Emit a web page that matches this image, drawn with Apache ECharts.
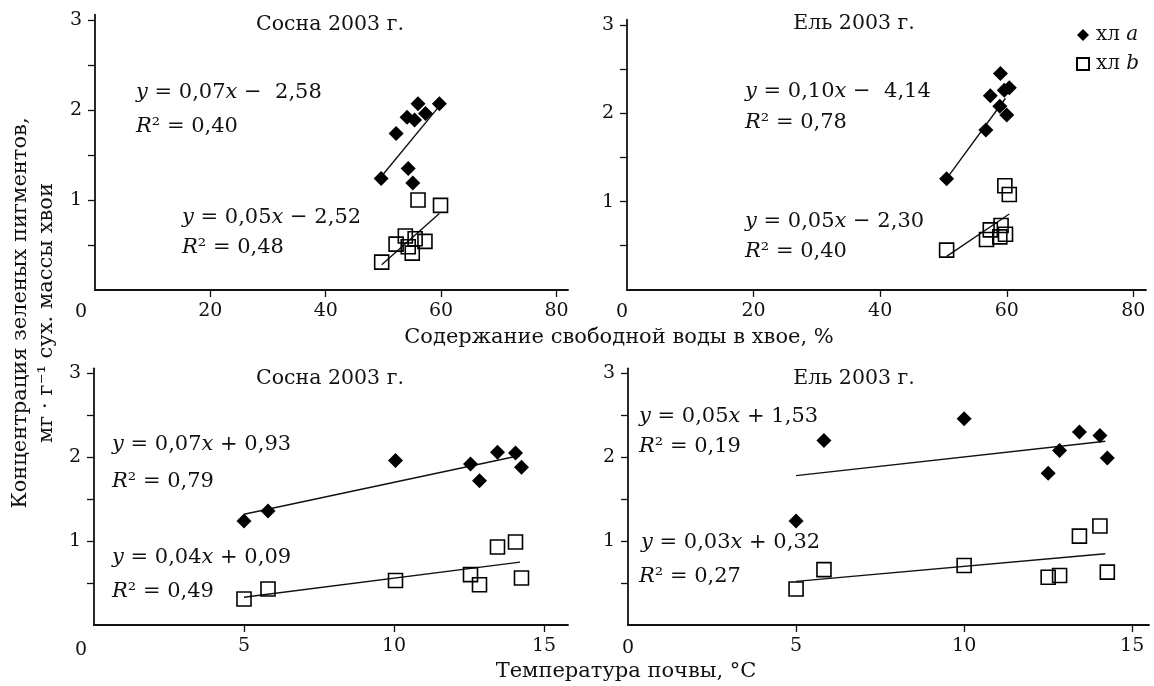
<!DOCTYPE html>
<html><head><meta charset="utf-8">
<script src="https://cdn.jsdelivr.net/npm/echarts@6/dist/echarts.min.js"></script>
<style>html,body{margin:0;padding:0;background:#fff}#c{width:1154px;height:686px}</style>
</head><body><div id="c"></div>
<script>
// ---- data ----
// top-left: Сосна, free water content (%)
var pineWaterA = [49.6, 52.2, 54.1, 54.3, 55.1, 55.4, 56.0, 57.3, 59.7];
var pineWaterChlA = [1.24, 1.74, 1.92, 1.35, 1.19, 1.89, 2.07, 1.96, 2.07];
var pineWaterB = [49.7, 52.2, 53.8, 54.3, 55.0, 55.5, 56.0, 57.2, 59.9];
var pineWaterChlB = [0.31, 0.51, 0.60, 0.48, 0.41, 0.57, 1.00, 0.54, 0.94];
var pineWaterTrendA = [[49.5, 1.25], [59.9, 2.06]];
var pineWaterTrendB = [[49.7, 0.28], [59.7, 0.85]];
// top-right: Ель, free water content (%)
var spruceWaterA = [50.5, 56.7, 57.4, 58.9, 59.0, 59.6, 60.0, 60.4];
var spruceWaterChlA = [1.26, 1.81, 2.20, 2.08, 2.45, 2.26, 1.98, 2.29];
var spruceWaterB = [50.5, 56.8, 57.4, 58.9, 59.1, 59.7, 59.8, 60.4];
var spruceWaterChlB = [0.45, 0.57, 0.68, 0.60, 0.73, 1.18, 0.63, 1.08];
var spruceWaterTrendA = [[50.5, 1.26], [59.8, 2.17]];
var spruceWaterTrendB = [[50.5, 0.38], [60.4, 0.86]];
// bottom-left: Сосна, soil temperature (°C)
var pineTemp = [5.0, 5.8, 10.05, 12.55, 12.85, 13.45, 14.05, 14.25];
var pineTempChlA = [1.24, 1.36, 1.96, 1.92, 1.72, 2.06, 2.05, 1.88];
var pineTempChlB = [0.31, 0.43, 0.53, 0.60, 0.48, 0.93, 0.99, 0.56];
var pineTempTrendA = [[5.0, 1.32], [14.2, 2.02]];
var pineTempTrendB = [[5.0, 0.33], [14.2, 0.75]];
// bottom-right: Ель, soil temperature (°C)
var spruceTemp = [5.0, 5.83, 10.0, 12.5, 12.84, 13.43, 14.04, 14.26];
var spruceTempChlA = [1.24, 2.20, 2.46, 1.81, 2.08, 2.30, 2.26, 1.99];
var spruceTempChlB = [0.43, 0.66, 0.71, 0.57, 0.59, 1.06, 1.18, 0.63];
var spruceTempTrendA = [[5.0, 1.78], [14.2, 2.19]];
var spruceTempTrendB = [[5.0, 0.52], [14.2, 0.85]];
// ticks
var waterTicks = [20, 40, 60, 80];
var tempTicks = [5, 10, 15];
var yLabelTicks = [1, 2, 3];
var yMinorTicks = [0.5, 1, 1.5, 2, 2.5, 3];
// texts
var panelTitles = ['Сосна 2003 г.', 'Ель 2003 г.', 'Сосна 2003 г.', 'Ель 2003 г.'];
var equations = [
  ['{i|y} = 0,07{i|x} −  2,58', '{i|R}² = 0,40', '{i|y} = 0,05{i|x} − 2,52', '{i|R}² = 0,48'],
  ['{i|y} = 0,10{i|x} −  4,14', '{i|R}² = 0,78', '{i|y} = 0,05{i|x} − 2,30', '{i|R}² = 0,40'],
  ['{i|y} = 0,07{i|x} + 0,93', '{i|R}² = 0,79', '{i|y} = 0,04{i|x} + 0,09', '{i|R}² = 0,49'],
  ['{i|y} = 0,05{i|x} + 1,53', '{i|R}² = 0,19', '{i|y} = 0,03{i|x} + 0,32', '{i|R}² = 0,27']
];
var xNameWater = 'Содержание свободной воды в хвое, %';
var xNameTemp = 'Температура почвы, °C';
var yName1 = 'Концентрация зеленых пигментов,';
var yName2 = 'мг · г⁻¹ сух. массы хвои';
var legendA = 'хл a', legendB = 'хл b';

function zip(xs, ys) { return xs.map(function (x, i) { return [x, ys[i]]; }); }

var FONT = 'DejaVu Serif';
var INK = '#111';
var FS = 21;
var grids = [
  {left: 95, top: 14.6, width: 473, height: 275.4},
  {left: 627, top: 19.7, width: 519, height: 270.2},
  {left: 94, top: 368.3, width: 474, height: 256.7},
  {left: 628, top: 368.3, width: 521, height: 256.7}
];
var xMax = [82, 82, 15.8, 15.5];
var xTickSets = [waterTicks, waterTicks, tempTicks, tempTicks];

var xAxes = [], yAxes = [];
for (var g = 0; g < 4; g++) {
  xAxes.push({
    type: 'value', gridIndex: g, min: 0, max: xMax[g],
    splitLine: {show: false},
    axisLine: {show: true, onZero: false, lineStyle: {color: INK, width: 1.8}},
    axisTick: {show: true, inside: false, length: 7, customValues: xTickSets[g], lineStyle: {color: INK, width: 1.3}},
    axisLabel: {customValues: xTickSets[g], margin: 12, color: INK, fontFamily: FONT, fontSize: 19}
  });
  yAxes.push({
    type: 'value', gridIndex: g, min: 0, max: 3.06,
    splitLine: {show: false},
    axisLine: {show: true, onZero: false, lineStyle: {color: INK, width: 1.8}},
    axisTick: {show: true, inside: false, length: 7, customValues: yMinorTicks, lineStyle: {color: INK, width: 1.3}},
    axisLabel: {customValues: yLabelTicks, margin: 13, color: INK, fontFamily: FONT, fontSize: 19}
  });
}

var panels = [
  [zip(pineWaterA, pineWaterChlA), zip(pineWaterB, pineWaterChlB), pineWaterTrendA, pineWaterTrendB],
  [zip(spruceWaterA, spruceWaterChlA), zip(spruceWaterB, spruceWaterChlB), spruceWaterTrendA, spruceWaterTrendB],
  [zip(pineTemp, pineTempChlA), zip(pineTemp, pineTempChlB), pineTempTrendA, pineTempTrendB],
  [zip(spruceTemp, spruceTempChlA), zip(spruceTemp, spruceTempChlB), spruceTempTrendA, spruceTempTrendB]
];
var series = [];
panels.forEach(function (p, g) {
  series.push({type: 'line', name: 'trendA' + g, xAxisIndex: g, yAxisIndex: g, data: p[2], symbol: 'none',
    lineStyle: {color: INK, width: 1.4}, silent: true, z: 2});
  series.push({type: 'line', name: 'trendB' + g, xAxisIndex: g, yAxisIndex: g, data: p[3], symbol: 'none',
    lineStyle: {color: INK, width: 1.4}, silent: true, z: 2});
  series.push({type: 'scatter', name: legendA, xAxisIndex: g, yAxisIndex: g, data: p[0], symbol: 'diamond',
    symbolSize: 15, itemStyle: {color: '#000', opacity: 1}, z: 3});
  series.push({type: 'scatter', name: legendB, xAxisIndex: g, yAxisIndex: g, data: p[1], symbol: 'rect',
    symbolSize: 14, itemStyle: {color: 'rgba(255,255,255,0)', borderColor: '#000', borderWidth: 1.6, opacity: 1}, z: 3});
});

var rich = {i: {fontStyle: 'italic', fontFamily: FONT, fontSize: FS, fill: INK, color: INK}};
function txt(x, y, text, align, size, extra) {
  var el = {type: 'text', x: x, y: y, silent: true,
    style: {text: text, fontFamily: FONT, fontSize: size || FS, fill: INK, align: align || 'left', verticalAlign: 'middle', rich: rich}};
  if (extra) for (var k in extra) el[k] = extra[k];
  return el;
}
var titlePos = [[330, 25], [854, 24], [330, 379], [854, 379]];
var eqPos = [
  [[136, 93], [136, 127], [182, 218], [182, 248]],
  [[745, 92], [745, 123], [745, 222], [745, 252]],
  [[112, 445], [112, 482], [112, 558], [112, 592]],
  [[639, 417], [639, 447], [641, 543], [639, 577]]
];
var zeroPos = [[81, 312], [622, 312], [81, 650], [628, 648]];
var graphics = [];
for (var p = 0; p < 4; p++) {
  graphics.push(txt(titlePos[p][0], titlePos[p][1], panelTitles[p], 'center', 20.5));
  for (var e = 0; e < 4; e++) graphics.push(txt(eqPos[p][e][0], eqPos[p][e][1], equations[p][e], 'left', FS));
  graphics.push(txt(zeroPos[p][0], zeroPos[p][1], '0', 'center', 19));
}
graphics.push(txt(619, 338, xNameWater, 'center', FS));
graphics.push(txt(626, 672, xNameTemp, 'center', FS));
graphics.push(txt(21, 313, yName1, 'center', FS, {rotation: Math.PI / 2}));
graphics.push(txt(47, 313, yName2, 'center', FS, {rotation: Math.PI / 2}));

var chart = echarts.init(document.getElementById('c'), null, {renderer: 'canvas'});
chart.setOption({
  animation: false,
  backgroundColor: '#fff',
  grid: grids,
  xAxis: xAxes,
  yAxis: yAxes,
  legend: {
    data: [{name: legendA, icon: 'diamond'}, {name: legendB, icon: 'rect'}],
    orient: 'vertical', left: 1076, top: 25, itemWidth: 12, itemHeight: 12, itemGap: 9,
    padding: 0, selectedMode: false,
    formatter: function (n) { return n === legendA ? 'хл {i|a}' : 'хл {i|b}'; },
    textStyle: {fontFamily: FONT, fontSize: 20, color: INK, padding: [0, 0, 0, 2], rich: {i: {fontStyle: 'italic', fontFamily: FONT, fontSize: 20, color: INK}}}
  },
  graphic: graphics,
  series: series
});
</script></body></html>
